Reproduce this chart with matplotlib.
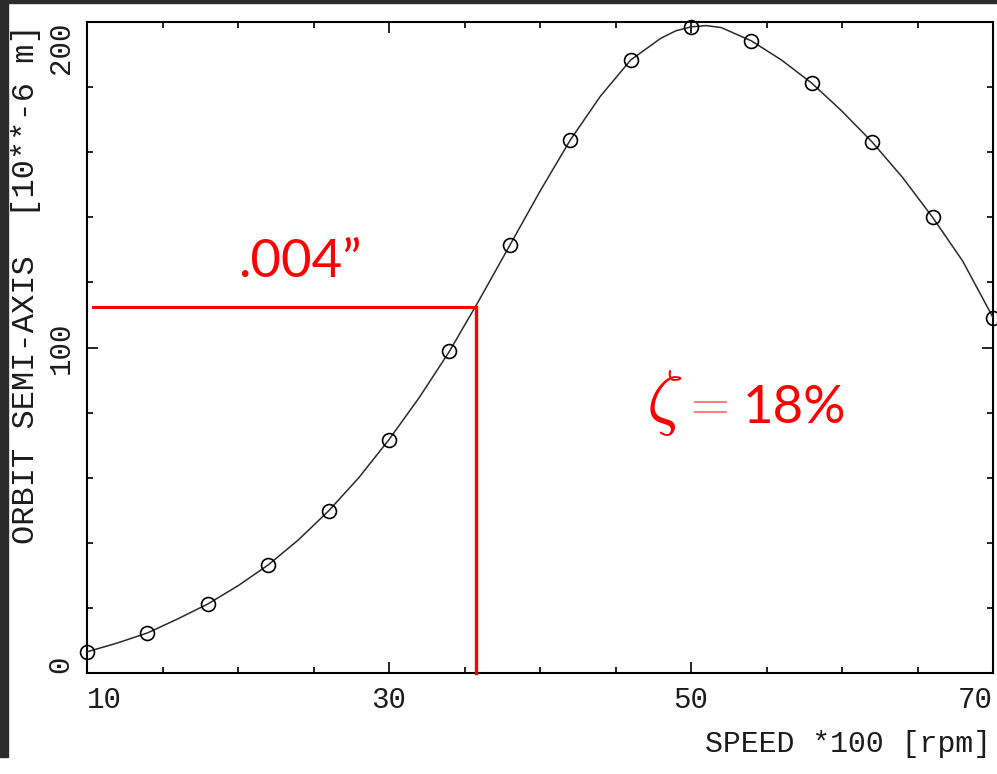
import matplotlib
matplotlib.use("Agg")
import matplotlib.pyplot as plt
from matplotlib.ticker import MultipleLocator
from matplotlib.patches import Rectangle

# measured points (circles)
speed_pts = [10, 14, 18, 22, 26, 30, 34, 38, 42, 46, 50, 54, 58, 62, 66, 70]
orbit_pts = [6.5, 12.3, 21.2, 33.2, 49.8, 71.7, 98.8, 131.4, 163.7, 188.3,
             198.5, 194.2, 181.2, 163.1, 140.0, 109.2]

# curve
speed_curve = [10, 12, 14, 16, 18, 20, 22, 24, 26, 28, 30, 32, 34, 36, 38, 40,
               42, 44, 46, 48, 49, 50, 51, 52, 54, 56, 58, 60, 62, 64, 66, 68, 70]
orbit_curve = [6.5, 9.2, 12.3, 16.6, 21.2, 26.8, 33.2, 40.9, 49.8, 60.0, 71.7,
               84.6, 98.8, 114.8, 131.4, 148.0, 163.7, 177.2, 188.3, 195.0,
               197.3, 198.5, 198.9, 198.3, 194.2, 188.3, 181.2, 172.6, 163.1,
               152.3, 140.0, 126.5, 109.2]

# red marker lines
mark_speed = 35.76
mark_orbit = 112.3

MONO = "Liberation Mono"
SANS = "Lato"
RED = "#ff0000"
TXT = "#1c1c1c"

fig = plt.figure(figsize=(9.97, 7.74), dpi=100)
fig.patch.set_facecolor("white")

# dark screenshot border
fig.patches.append(Rectangle((0, 17 / 774), 8 / 997, 1, transform=fig.transFigure,
                             color="#2b2b2b", zorder=0))
fig.patches.append(Rectangle((0, 771 / 774), 1, 3 / 774, transform=fig.transFigure,
                             color="#2b2b2b", zorder=0))

ax = fig.add_axes([87 / 997, 101 / 774, (993 - 87) / 997, (673 - 22) / 774])

ax.plot(speed_curve, orbit_curve, color="#2a2a2a", linewidth=1.1, zorder=3)
ax.plot(speed_pts, orbit_pts, "o", mfc="none", mec="black", ms=10, mew=1.2,
        zorder=4, clip_on=False)

# red construction lines
ax.plot([10.4, mark_speed], [mark_orbit, mark_orbit], color=RED, linewidth=2.2, zorder=5)
ax.plot([mark_speed, mark_speed], [mark_orbit, 0], color=RED, linewidth=2.4, zorder=5,
        clip_on=False)

ax.set_xlim(10, 70)
ax.set_ylim(0, 200)

ax.set_xticks([10, 30, 50, 70], labels=["10", "30", "50", "70"])
ax.set_yticks([0, 100, 200], labels=["0", "100", "200"])
ax.xaxis.set_minor_locator(MultipleLocator(5))
ax.yaxis.set_minor_locator(MultipleLocator(20))
ax.tick_params(which="both", direction="in", top=True, right=True, width=1.2, color="black")
ax.tick_params(which="major", length=8)
ax.tick_params(which="minor", length=4.5)
ax.tick_params(axis="x", pad=9.5)
ax.tick_params(axis="y", pad=9)
for s in ax.spines.values():
    s.set_linewidth(1.5)
    s.set_color("black")

for lab in ax.get_xticklabels():
    lab.set_fontfamily(MONO)
    lab.set_fontsize(21)
    lab.set_color(TXT)
xl = ax.get_xticklabels()
xl[0].set_ha("left")
xl[-1].set_ha("right")

for lab in ax.get_yticklabels():
    lab.set_fontfamily(MONO)
    lab.set_fontsize(21)
    lab.set_color(TXT)
    lab.set_rotation(90)
    lab.set_va("center")
yl = ax.get_yticklabels()
yl[0].set_va("bottom")
yl[-1].set_va("top")

fig.text(26 / 997, 1 - 24 / 774, "ORBIT SEMI-AXIS  [10**-6 m]", rotation=90,
         ha="center", va="top", fontfamily=MONO, fontsize=23, color=TXT)
fig.text(991 / 997, 1 - 752 / 774, "SPEED *100 [rpm]", ha="right", va="baseline",
         fontfamily=MONO, fontsize=21.5, color=TXT)

# red annotations
ax.text(20.0, 121.8, ".004\u201d", color=RED, fontfamily=SANS, fontsize=38,
        ha="left", va="baseline", zorder=6)
ax.text(47.0, 77.5, r"$\zeta$", color=RED, fontsize=52, math_fontfamily="cm",
        ha="left", va="baseline", zorder=6)
ax.text(49.4, 82.5, r"$=$", color="#ff8080", fontsize=36, math_fontfamily="cm",
        ha="left", va="center", zorder=6)
ax.text(53.4, 76.9, "18%", color=RED, fontfamily=SANS, fontsize=38,
        ha="left", va="baseline", zorder=6)

plt.savefig("out.png", dpi=100, facecolor=fig.get_facecolor())
plt.close()
